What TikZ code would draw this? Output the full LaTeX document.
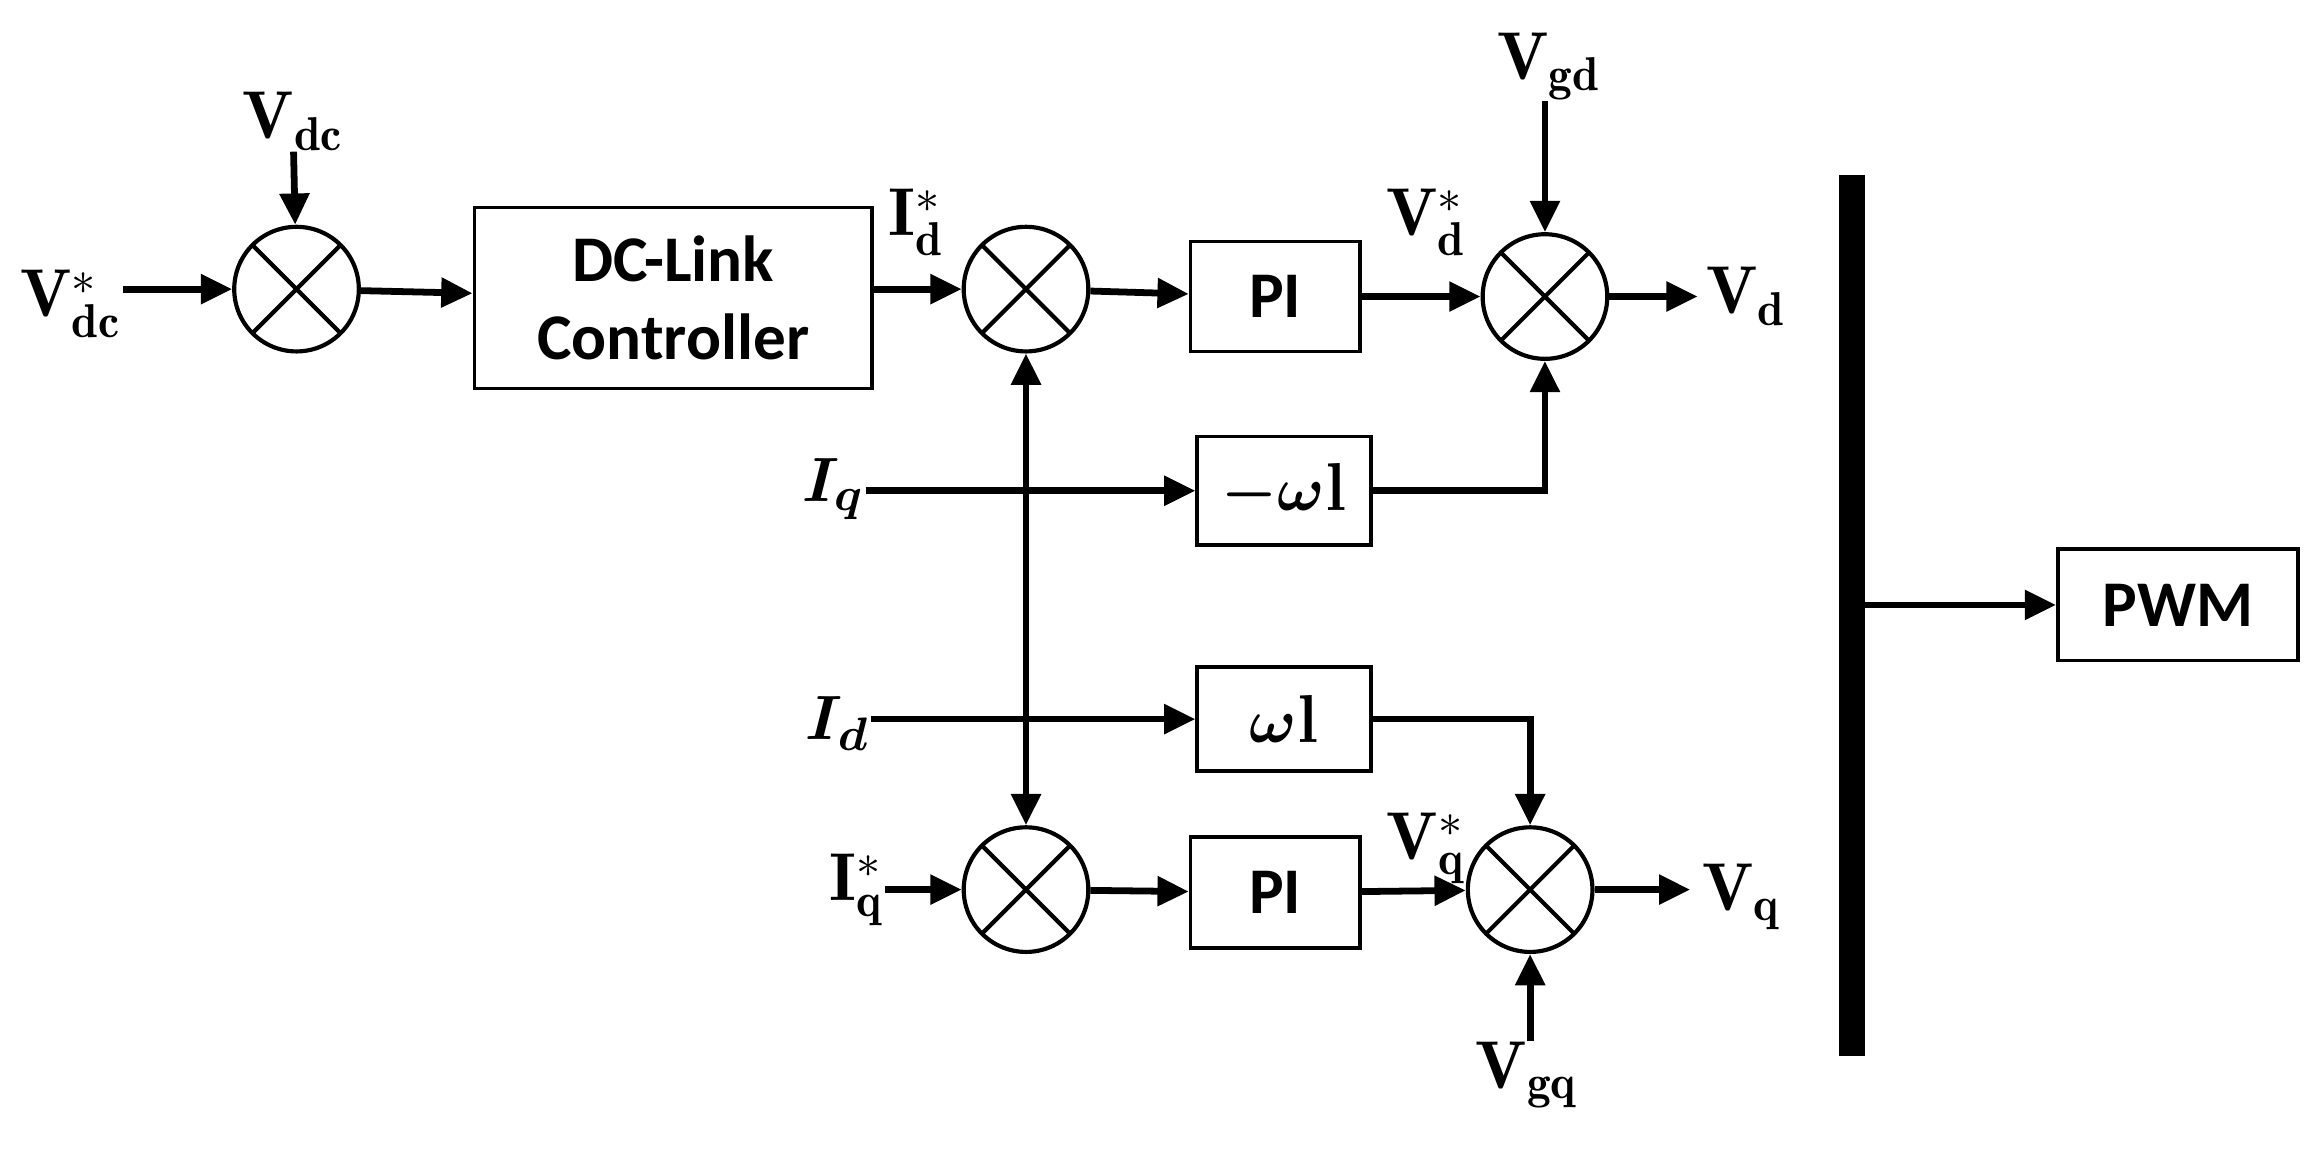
\documentclass[tikz,border=0pt]{standalone}
\usepackage{fontspec}
\usepackage{amsmath,bm}
\setsansfont{Carlito}
\usetikzlibrary{arrows.meta}
\begin{document}
\begin{tikzpicture}[x=0.01cm,y=0.01cm,
 box/.style={draw,line width=0.7pt,minimum width=#1,font=\sffamily\bfseries\fontsize{12.5}{15}\selectfont,align=center,inner sep=0pt},
 sum/.style={draw,circle,line width=0.8pt,minimum size=0.84cm,inner sep=0pt,path picture={\draw[line width=0.8pt] ([shift={(-0.3cm,0.3cm)}]path picture bounding box.center)--([shift={(0.3cm,-0.3cm)}]path picture bounding box.center) ([shift={(-0.3cm,-0.3cm)}]path picture bounding box.center)--([shift={(0.3cm,0.3cm)}]path picture bounding box.center);}},
 ar/.style={line width=1.3pt,-{Triangle[length=6pt,width=5.5pt]}},
 lab/.style={font=\fontsize{13}{15}\selectfont,inner sep=0pt}]
\useasboundingbox (0,0) rectangle (1560,-776);
\node[sum] (s1) at (200,-195) {};
\node[sum] (s2) at (692,-195) {};
\node[sum] (s3) at (1042,-200) {};
\node[sum] (s5) at (692,-600) {};
\node[sum] (s4) at (1032,-600) {};
\node[box=2.68cm,minimum height=1.22cm] (dc) at (454,-201) {DC-Link\\Controller};
\node[box=1.14cm,minimum height=0.74cm] (pi1) at (860,-200) {PI};
\node[box=1.14cm,minimum height=0.75cm] (pi2) at (860,-602) {PI};
\node[box=1.17cm,minimum height=0.73cm,font=\bfseries\fontsize{13}{15}\selectfont] (mw) at (866,-331) {$\boldsymbol{-\omega}$l};
\node[box=1.17cm,minimum height=0.70cm,font=\bfseries\fontsize{13}{15}\selectfont] (w) at (866,-485) {$\boldsymbol{\omega}$l};
\node[box=1.62cm,minimum height=0.75cm] (pwm) at (1469,-408) {PWM};
\fill (1240,-118) rectangle (1258,-712);
\coordinate (bar) at (1258,-408);
\node[lab] (vdcs) at (48,-205) {$\mathbf{V_{dc}^{*}}$};
\node[lab] (vdc) at (198,-82) {$\mathbf{V_{dc}}$};
\node[lab] (ids) at (618,-150) {$\mathbf{I_{d}^{*}}$};
\node[lab] (vds) at (962,-150) {$\mathbf{V_{d}^{*}}$};
\node[lab] (vgd) at (1045,-45) {$\mathbf{V_{gd}}$};
\node[lab] (vd) at (1178,-200) {$\mathbf{V_{d}}$};
\node[lab] (iq) at (562,-330) {$\bm{I_q}$};
\node[lab] (id) at (565,-488) {$\bm{I_d}$};
\node[lab] (iqs) at (578,-600) {$\mathbf{I_{q}^{*}}$};
\node[lab] (vqs) at (962,-572) {$\mathbf{V_{\bm{q}}^{*}}$};
\node[lab] (vq) at (1175,-605) {$\mathbf{V_{q}}$};
\node[lab] (vgq) at (1030,-725) {$\mathbf{V_{gq}}$};
\draw[ar] (s1.west-|vdcs.east) -- (s1);
\draw[ar] (vdc.south) -- (s1);
\draw[ar] (s1) -- (dc);
\draw[ar] (dc.east|-s2) -- (s2);
\draw[ar] (s2) -- (pi1);
\draw[ar] (pi1) -- (s3);
\draw[ar] (s3.north|-vgd.south) -- (s3);
\draw[ar] (s3) -- (1145,-200);
\draw[ar] (mw.east) -| (s3.south);
\draw[ar] (mw.west-|iq.east) -- (mw.west);
\draw[ar] (w.west-|id.east) -- (w.west);
\draw[ar] (w.east) -| (s4.north);
\draw[ar] (s5.west-|iqs.east) -- (s5);
\draw[ar] (s5) -- (pi2);
\draw[ar] (pi2) -- (s4);
\draw[ar] (s4) -- (1140,-600);
\draw[ar] (s4.south|-vgq.north) -- (s4);
\draw[line width=1.3pt,{Triangle[length=6pt,width=5.5pt]}-{Triangle[length=6pt,width=5.5pt]}] (s2.south) -- (s5.north);
\draw[ar] (bar) -- (pwm.west);
\end{tikzpicture}
\end{document}
